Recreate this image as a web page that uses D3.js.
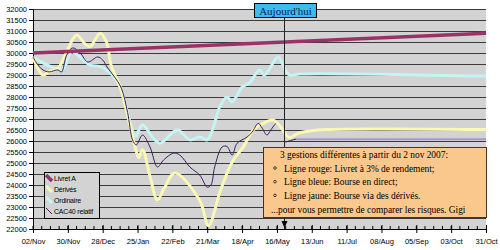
<!DOCTYPE html>
<meta charset="utf-8">
<style>
body { margin: 0; background: #fff; }
.axis text { font-family: "Liberation Sans", Arial, sans-serif; font-size: 7.5px; fill: #000; }
.grid line { stroke: #3a3a3a; stroke-width: 1px; shape-rendering: crispEdges; }
.legend text { font-family: "Liberation Sans", Arial, sans-serif; font-size: 7px; letter-spacing: -0.2px; fill: #000; }
.note text { font-family: "Liberation Serif", "Times New Roman", serif; font-size: 9.4px; fill: #000; }
</style>
<body></body>
<script src="https://cdnjs.cloudflare.com/ajax/libs/d3/7.8.5/d3.min.js"></script>
<script>

// x tick dates (every 4 weeks)
var tickDates = ["2007-11-02", "2007-11-30", "2007-12-28", "2008-01-25", "2008-02-22", "2008-03-21",
                 "2008-04-18", "2008-05-16", "2008-06-13", "2008-07-11", "2008-08-08", "2008-09-05",
                 "2008-10-03", "2008-10-31"];
var yTicks = d3.range(22000, 32001, 500);
var today = "2008-05-22";

// Livret A : 3% over the year
var livretDates = ["2007-11-02", "2008-10-31"];
var livretValues = [30000, 30900];

// Ordinaire (bourse en direct)
var ordinaireDates = ["2007-11-02", "2007-11-10", "2007-11-18", "2007-11-26", "2007-12-03", "2007-12-10",
  "2007-12-18", "2007-12-26", "2008-01-03", "2008-01-11", "2008-01-16", "2008-01-20", "2008-01-23",
  "2008-01-29", "2008-02-06", "2008-02-12", "2008-02-26", "2008-03-07", "2008-03-15", "2008-03-21",
  "2008-03-26", "2008-03-31", "2008-04-06", "2008-04-10", "2008-04-18", "2008-04-24", "2008-05-02",
  "2008-05-06", "2008-05-17", "2008-05-22", "2008-05-26", "2008-06-04", "2008-10-31"];
var ordinaireValues = [29800, 29550, 29350, 29250, 30050, 29800,
  29450, 29380, 29100, 28450, 27500, 26650, 26200,
  26730, 26180, 25900, 26500, 26050, 26180, 26050,
  26640, 27550, 28000, 27770, 28450, 28640, 29230,
  29000, 29820, 29300, 29000, 29050, 28950];

// Dérivés
var derivesDates = ["2007-11-02", "2007-11-10", "2007-11-15", "2007-11-22", "2007-11-29", "2007-12-07",
  "2007-12-14", "2007-12-18", "2007-12-26", "2007-12-31", "2008-01-04", "2008-01-11", "2008-01-16",
  "2008-01-23", "2008-01-26", "2008-01-29", "2008-02-04", "2008-02-10", "2008-02-15", "2008-02-24",
  "2008-03-15", "2008-03-22", "2008-03-31", "2008-04-06", "2008-04-11", "2008-04-19", "2008-04-27",
  "2008-05-05", "2008-05-13", "2008-05-19", "2008-05-22", "2008-05-26", "2008-06-02", "2008-06-11",
  "2008-06-24", "2008-10-31"];
var derivesValues = [29800, 29000, 29150, 29300, 30050, 30820,
  30400, 30300, 30900, 30500, 29400, 28450, 27400,
  25750, 25250, 25600, 24400, 23320, 23800, 24550,
  23300, 22150, 23640, 24550, 25140, 25730, 26500,
  26800, 26950, 26640, 26400, 26150, 26350, 26450,
  26520, 26520];

// CAC40 relatif
var cacDates = ["2007-11-02", "2007-11-06", "2007-11-10", "2007-11-15", "2007-11-22", "2007-11-25",
  "2007-11-29", "2007-12-04", "2007-12-10", "2007-12-16", "2007-12-24", "2007-12-28", "2008-01-01",
  "2008-01-06", "2008-01-12", "2008-01-17", "2008-01-21", "2008-01-24", "2008-01-29", "2008-02-04",
  "2008-02-10", "2008-02-15", "2008-02-23", "2008-02-28", "2008-03-07", "2008-03-15", "2008-03-21",
  "2008-03-24", "2008-03-27", "2008-04-02", "2008-04-06", "2008-04-10", "2008-04-14", "2008-04-22",
  "2008-04-26", "2008-05-01", "2008-05-04", "2008-05-08", "2008-05-11", "2008-05-15"];
var cacValues = [29820, 29450, 29230, 29140, 29230, 29140,
  29900, 30230, 30000, 29590, 29820, 29680, 29320,
  28950, 28400, 27300, 26050, 25820, 26270, 25730,
  24820, 25140, 25450, 25360, 24820, 24450, 23900,
  24000, 24820, 25730, 25750, 25360, 25900, 26180,
  26400, 26800, 26600, 26270, 26500, 26800];

// CAC40 after today
var cacApresDates = ["2008-05-23", "2008-05-27", "2008-05-31"];
var cacApresValues = [25950, 26020, 26080];
var repereDates = ["2008-05-30", "2008-10-31"];
var repereValues = [26080, 26080];

var legendNames = ["Livret A", "Dérivés", "Ordinaire", "CAC40 relatif"];
var noteLines = ["3 gestions différentes à partir du 2 nov 2007:",
                 "Ligne rouge: Livret à 3% de rendement;",
                 "Ligne bleue: Bourse en direct;",
                 "Ligne jaune: Bourse via des dérivés.",
                 "...pour vous permettre de comparer les risques. Gigi"];

var width = 500, height = 250;
var plotLeft = 33, plotRight = 486, plotTop = 9, plotBottom = 229;
var parse = d3.timeParse("%Y-%m-%d");

var svg = d3.select("body").append("svg")
    .attr("width", width)
    .attr("height", height);

var x = d3.scaleTime()
    .domain([parse(tickDates[0]), parse(tickDates[tickDates.length - 1])])
    .range([plotLeft, plotRight]);
var y = d3.scaleLinear()
    .domain([22000, 32000])
    .range([plotBottom, plotTop]);

function pairs(dates, values) {
  return dates.map(function(d, i) { return [parse(d), values[i]]; });
}

// plot background
svg.append("rect")
    .attr("x", plotLeft).attr("y", plotTop)
    .attr("width", plotRight - plotLeft).attr("height", plotBottom - plotTop)
    .attr("fill", "#d3d3d3");

svg.append("g")
    .attr("class", "grid")
  .selectAll("line")
  .data(yTicks.slice(1))
  .enter().append("line")
    .attr("x1", plotLeft).attr("x2", plotRight)
    .attr("y1", function(d) { return Math.round(y(d)) + 0.5; })
    .attr("y2", function(d) { return Math.round(y(d)) + 0.5; });

// y axis
var yAxis = svg.append("g")
    .attr("class", "axis")
    .attr("transform", "translate(" + plotLeft + ",0)")
    .call(d3.axisLeft(y).tickValues(yTicks).tickFormat(d3.format("d")).tickSize(4).tickPadding(2));
yAxis.select(".domain").attr("stroke", "#000");

// x axis
var majorTicks = tickDates.map(parse);
var minorTicks = d3.timeDay.range(majorTicks[0], majorTicks[majorTicks.length - 1], 7);
svg.append("g")
  .selectAll("line")
  .data(minorTicks)
  .enter().append("line")
    .attr("x1", function(d) { return x(d); })
    .attr("x2", function(d) { return x(d); })
    .attr("y1", plotBottom - 3).attr("y2", plotBottom)
    .attr("stroke", "#000");
var xAxis = svg.append("g")
    .attr("class", "axis")
    .attr("transform", "translate(0," + plotBottom + ")")
    .call(d3.axisBottom(x).tickValues(majorTicks).tickFormat(d3.timeFormat("%d/%b")).tickSize(4).tickPadding(6));
xAxis.selectAll(".tick line").attr("y1", -4);
xAxis.select(".domain").attr("stroke", "#000");

// series
var line = d3.line()
    .x(function(d) { return x(d[0]); })
    .y(function(d) { return y(d[1]); })
    .curve(d3.curveCatmullRom.alpha(0.5));

var series = [
  {data: pairs(repereDates, repereValues), color: "#a898c8", w: 2},
  {data: pairs(cacApresDates, cacApresValues), color: "#2a1850", w: 1},
  {data: pairs(ordinaireDates, ordinaireValues), color: "#c4f4f4", w: 3},
  {data: pairs(derivesDates, derivesValues), color: "#fbf8b4", w: 3},
  {data: pairs(cacDates, cacValues), color: "#3a2060", w: 1},
  {data: pairs(livretDates, livretValues), color: "#993366", w: 3.5}
];

svg.append("g")
  .selectAll("path")
  .data(series)
  .enter().append("path")
    .attr("d", function(d) { return line(d.data); })
    .attr("fill", "none")
    .attr("stroke", function(d) { return d.color; })
    .attr("stroke-width", function(d) { return d.w; });

// today marker
var tx = Math.round(x(parse(today))) + 0.5;
svg.append("line")
    .attr("x1", tx).attr("x2", tx)
    .attr("y1", 17).attr("y2", plotBottom)
    .attr("stroke", "#222");
svg.append("rect")
    .attr("x", 254.5).attr("y", 3.5)
    .attr("width", 62).attr("height", 14)
    .attr("fill", "#3cbcec").attr("stroke", "#000");
svg.append("text")
    .attr("x", 285.5).attr("y", 14.5)
    .attr("text-anchor", "middle")
    .attr("font-family", "Liberation Serif, Times New Roman, serif")
    .attr("font-size", "11px")
    .attr("fill", "#0c1c5c")
    .text("Aujourd'hui");

// legend
var legendColors = ["#993366", "#fbf8b4", "#c4f4f4", "#3a2060"];
var legendWidths = [3.5, 3, 3, 1];
var legend = svg.append("g").attr("class", "legend");
legend.append("rect")
    .attr("x", 44.5).attr("y", 172.5)
    .attr("width", 55).attr("height", 46)
    .attr("fill", "#d3d3d3").attr("stroke", "#000");
var entry = legend.selectAll("g")
  .data(legendNames)
  .enter().append("g")
    .attr("transform", function(d, i) { return "translate(0," + (178 + i * 11) + ")"; });
entry.append("line")
    .attr("x1", 46).attr("y1", -3).attr("x2", 52).attr("y2", 3)
    .attr("stroke", function(d, i) { return legendColors[i]; })
    .attr("stroke-width", function(d, i) { return legendWidths[i]; });
entry.append("text")
    .attr("x", 54).attr("y", 3)
    .text(function(d) { return d; });

// note box
var note = svg.append("g").attr("class", "note");
note.append("rect")
    .attr("x", 263.5).attr("y", 147.5)
    .attr("width", 223).attr("height", 70)
    .attr("fill", "#fac88c").attr("stroke", "#4a3028");
note.selectAll("text")
  .data(noteLines)
  .enter().append("text")
    .attr("x", function(d, i) { return i === 0 ? 280 : i === 4 ? 271 : 284; })
    .attr("y", function(d, i) { return 158 + i * 13.7; })
    .text(function(d) { return d; });
note.selectAll("circle")
  .data(noteLines.slice(1, 4))
  .enter().append("circle")
    .attr("cx", 275)
    .attr("cy", function(d, i) { return 168 + i * 13.7; })
    .attr("r", 1.3)
    .attr("fill", "none")
    .attr("stroke", "#000")
    .attr("stroke-width", 0.7);

// arrow under the note
svg.append("path")
    .attr("d", "M" + (tx - 3) + ",221L" + (tx + 3) + ",221L" + tx + ",228Z")
    .attr("fill", "#000");

</script>
